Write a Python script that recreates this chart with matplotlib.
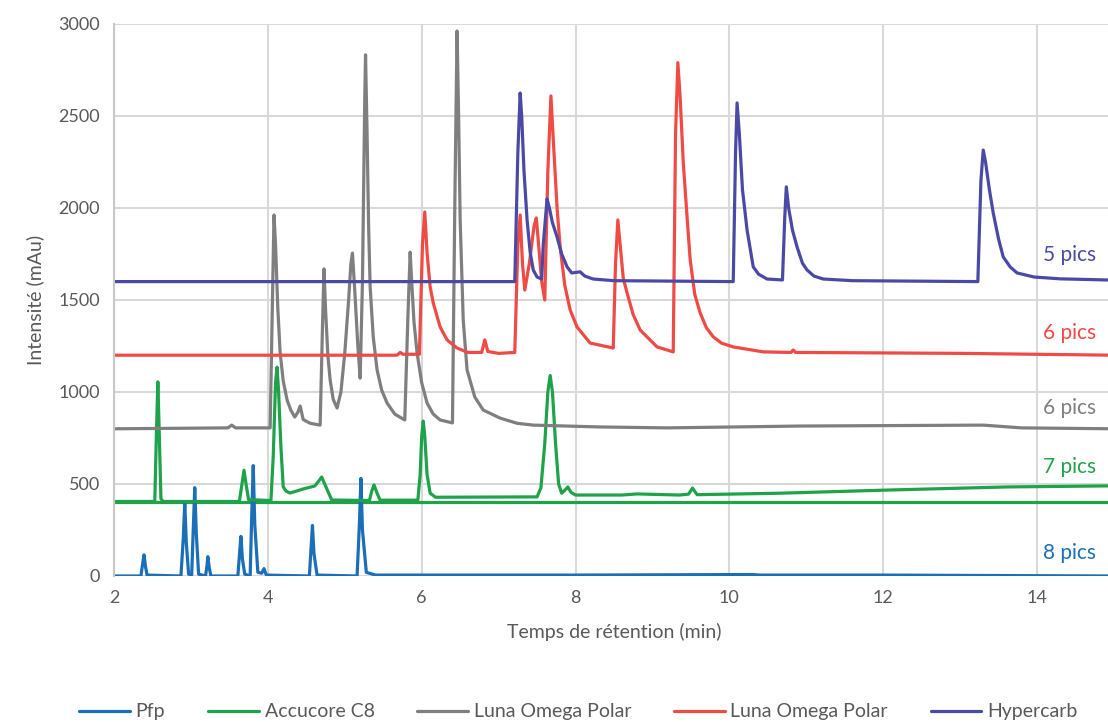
import matplotlib
matplotlib.use("Agg")
import matplotlib.pyplot as plt
from matplotlib import font_manager

# ---------------- data ----------------
pfp_t = [2.0, 2.35, 2.37, 2.39, 2.41, 2.43, 2.87, 2.90, 2.92, 2.94, 2.97, 3.01, 3.03,
         3.05, 3.07, 3.10, 3.19, 3.21, 3.22, 3.24, 3.26,
         3.61, 3.63, 3.65, 3.67, 3.70, 3.77, 3.79, 3.81, 3.83, 3.87, 3.92, 3.95, 3.98,
         4.54, 4.56, 4.58, 4.60, 4.64, 5.16, 5.19, 5.21, 5.23, 5.28, 5.40,
         8.0, 10.3, 10.4, 12.0, 15.0]
pfp_v = [0, 0, 60, 115, 50, 5, 0, 200, 395, 180, 10, 5, 250,
         480, 230, 10, 0, 60, 105, 40, 0,
         0, 110, 215, 90, 10, 0, 320, 600, 280, 20, 15, 40, 5,
         0, 140, 275, 120, 5, 0, 280, 530, 250, 20, 5,
         5, 8, 5, 5, 0]

c8_t = [2.0, 2.53, 2.55, 2.57, 2.59, 2.61, 2.64, 3.63, 3.66, 3.69, 3.72, 3.75,
        4.04, 4.07, 4.10, 4.12, 4.14, 4.17, 4.20, 4.24, 4.29,
        4.46, 4.61, 4.66, 4.70, 4.76, 4.83, 5.32, 5.35, 5.38, 5.42, 5.46,
        5.95, 5.98, 6.00, 6.02, 6.04, 6.07, 6.11, 6.18,
        7.50, 7.55, 7.60, 7.64, 7.67, 7.70, 7.74, 7.78, 7.82, 7.87, 7.90, 7.94,
        8.00, 8.6, 8.8, 9.35, 9.47, 9.52, 9.58,
        10.0, 10.66, 12.05, 13.61, 15.0]
c8_v = [405, 405, 750, 1055, 750, 420, 405, 405, 490, 575, 490, 415,
        410, 650, 1050, 1135, 1000, 700, 484, 460, 451,
        473, 489, 515, 538, 480, 413, 410, 460, 495, 450, 412,
        412, 550, 760, 842, 760, 550, 450, 428,
        430, 480, 720, 1000, 1090, 1000, 720, 500, 450, 470, 484, 455,
        440, 440, 446, 440, 445, 478, 442,
        445, 450, 467, 484, 490]
c8_base_t = [2.0, 15.0]
c8_base_v = [400, 400]

luna1_t = [2.0, 3.48, 3.53, 3.58, 4.03, 4.06, 4.08, 4.10, 4.13, 4.16, 4.20, 4.25,
           4.30, 4.35, 4.39, 4.42, 4.46, 4.55, 4.68, 4.71, 4.73, 4.75, 4.78, 4.81,
           4.85, 4.90, 4.95, 5.00, 5.05, 5.08, 5.10, 5.13, 5.17, 5.20, 5.23, 5.26,
           5.27, 5.29, 5.31, 5.33, 5.37, 5.42, 5.48, 5.55, 5.65, 5.78, 5.82, 5.85,
           5.87, 5.90, 5.94, 6.00, 6.07, 6.15, 6.24, 6.40, 6.43, 6.46, 6.48, 6.50,
           6.54, 6.59, 6.69, 6.80, 7.02, 7.24, 7.45, 8.32, 9.19, 10.92, 13.3, 13.8,
           15.0]
luna1_v = [800, 805, 820, 805, 805, 1500, 1962, 1800, 1450, 1212, 1060, 957,
           900, 864, 890, 924, 850, 830, 820, 1350, 1669, 1450, 1200, 1065,
           960, 913, 1000, 1212, 1500, 1700, 1755, 1550, 1250, 1075, 1600, 2600,
           2832, 2400, 1900, 1571, 1300, 1120, 1010, 940, 880, 848, 1400, 1760,
           1600, 1380, 1212, 1050, 940, 880, 848, 832, 2000, 2962, 2500, 1935,
           1391, 1120, 973, 902, 858, 830, 820, 810, 805, 815, 820, 805,
           800]

luna2_t = [2.0, 5.68, 5.72, 5.76, 5.97, 6.01, 6.04, 6.07, 6.11, 6.15, 6.24, 6.33,
           6.46, 6.60, 6.78, 6.82, 6.86, 7.0, 7.21, 7.25, 7.28, 7.31, 7.34, 7.40,
           7.46, 7.49, 7.52, 7.56, 7.60, 7.64, 7.68, 7.72, 7.76, 7.80, 7.86, 7.93,
           8.02, 8.19, 8.49, 8.52, 8.55, 8.58, 8.62, 8.67, 8.75, 8.84, 9.06, 9.27,
           9.30, 9.33, 9.36, 9.40, 9.45, 9.49, 9.55, 9.62, 9.70, 9.79, 9.90, 10.05,
           10.44, 10.80, 10.83, 10.86, 13.0, 15.0]
luna2_v = [1200, 1200, 1215, 1205, 1205, 1800, 1978, 1755, 1571, 1484, 1353, 1283,
           1239, 1215, 1215, 1283, 1220, 1210, 1215, 1800, 1962, 1700, 1554, 1700,
           1900, 1946, 1800, 1600, 1500, 2200, 2609, 2300, 2000, 1788, 1580, 1446,
           1353, 1266, 1239, 1700, 1935, 1800, 1620, 1538, 1420, 1337, 1245, 1218,
           2400, 2790, 2600, 2250, 1950, 1720, 1530, 1430, 1350, 1300, 1265, 1245,
           1218, 1215, 1228, 1215, 1210, 1200]

hyper_t = [2.0, 7.21, 7.25, 7.28, 7.30, 7.33, 7.37, 7.41, 7.45, 7.50, 7.56, 7.58,
           7.63, 7.66, 7.70, 7.76, 7.82, 7.89, 7.95, 8.06, 8.12, 8.23, 8.5,
           10.05, 10.08, 10.10, 10.13, 10.17, 10.23, 10.31, 10.38, 10.49, 10.69,
           10.72, 10.74, 10.77, 10.82, 10.88, 10.95, 11.01, 11.10, 11.22, 11.6,
           13.23, 13.27, 13.30, 13.33, 13.38, 13.43, 13.50, 13.56, 13.65, 13.74,
           13.96, 14.3, 15.0]
hyper_v = [1600, 1600, 2300, 2625, 2500, 2200, 1935, 1760, 1663, 1625, 1614, 1800,
           2050, 2000, 1920, 1842, 1750, 1680, 1647, 1653, 1630, 1614, 1605,
           1600, 2300, 2571, 2400, 2100, 1880, 1680, 1640, 1614, 1609,
           1950, 2115, 2000, 1880, 1788, 1700, 1663, 1630, 1614, 1605,
           1600, 2150, 2315, 2250, 2100, 1973, 1830, 1734, 1680, 1647,
           1625, 1615, 1608]

series_names = ["Pfp", "Accucore C8", "Luna Omega Polar", "Luna Omega Polar", "Hypercarb"]
series_colors = ["#1a6fb8", "#1fa34a", "#7f7f7f", "#ef4a44", "#4a4aa6"]
peak_labels = ["8 pics", "7 pics", "6 pics", "6 pics", "5 pics"]
label_y = [125, 592, 913, 1321, 1745]

x_ticks = [2, 4, 6, 8, 10, 12, 14]
y_ticks = [0, 500, 1000, 1500, 2000, 2500, 3000]

# ---------------- fonts ----------------
avail = {f.name for f in font_manager.fontManager.ttflist}
main_font = "Lato" if "Lato" in avail else "DejaVu Sans"
narrow_font = "Liberation Sans Narrow" if "Liberation Sans Narrow" in avail else main_font
plt.rcParams["font.family"] = [main_font, "DejaVu Sans"]

txt = "#595959"

fig = plt.figure(figsize=(11.08, 7.22), dpi=100)
ax = fig.add_axes([114 / 1108, 1 - 576 / 722, (1114 - 114) / 1108, (576 - 24) / 722])

ax.set_xlim(2, 15)
ax.set_ylim(0, 3000)
ax.set_xticks(x_ticks)
ax.set_yticks(y_ticks)
ax.grid(True, color="#d9d9d9", lw=1.5)
ax.set_axisbelow(True)
for s in ["top", "right", "bottom"]:
    ax.spines[s].set_visible(False)
ax.spines["left"].set_color("#c8c8c8")
ax.spines["left"].set_linewidth(1.5)
ax.tick_params(length=0, labelsize=13, colors=txt, pad=10)

ts = [pfp_t, c8_t, luna1_t, luna2_t, hyper_t]
vs = [pfp_v, c8_v, luna1_v, luna2_v, hyper_v]
handles = []
# flat Accucore baseline
ax.plot(c8_base_t, c8_base_v, color=series_colors[1], lw=2.3, solid_joinstyle="round")
for t, v, c, n in zip(ts, vs, series_colors, series_names):
    h, = ax.plot(t, v, color=c, lw=2.3, label=n, solid_joinstyle="round",
                 solid_capstyle="round")
    handles.append(h)

for lab, y, c in zip(peak_labels, label_y, series_colors):
    ax.text(14.77, y, lab, color=c, fontsize=15, ha="right", va="center")

ax.set_xlabel("Temps de rétention (min)", fontsize=14, color=txt, labelpad=12)
ax.set_ylabel("Intensité (mAu)", fontsize=14, color=txt, labelpad=10)

fig.legend(handles=handles, labels=series_names, loc="lower center",
           bbox_to_anchor=(0.522, -0.022), ncol=5, frameon=False,
           prop={"family": narrow_font, "size": 14}, handlelength=2.6,
           columnspacing=2.2, handletextpad=0.3, labelcolor=txt)

fig.savefig("out.png", dpi=100)
